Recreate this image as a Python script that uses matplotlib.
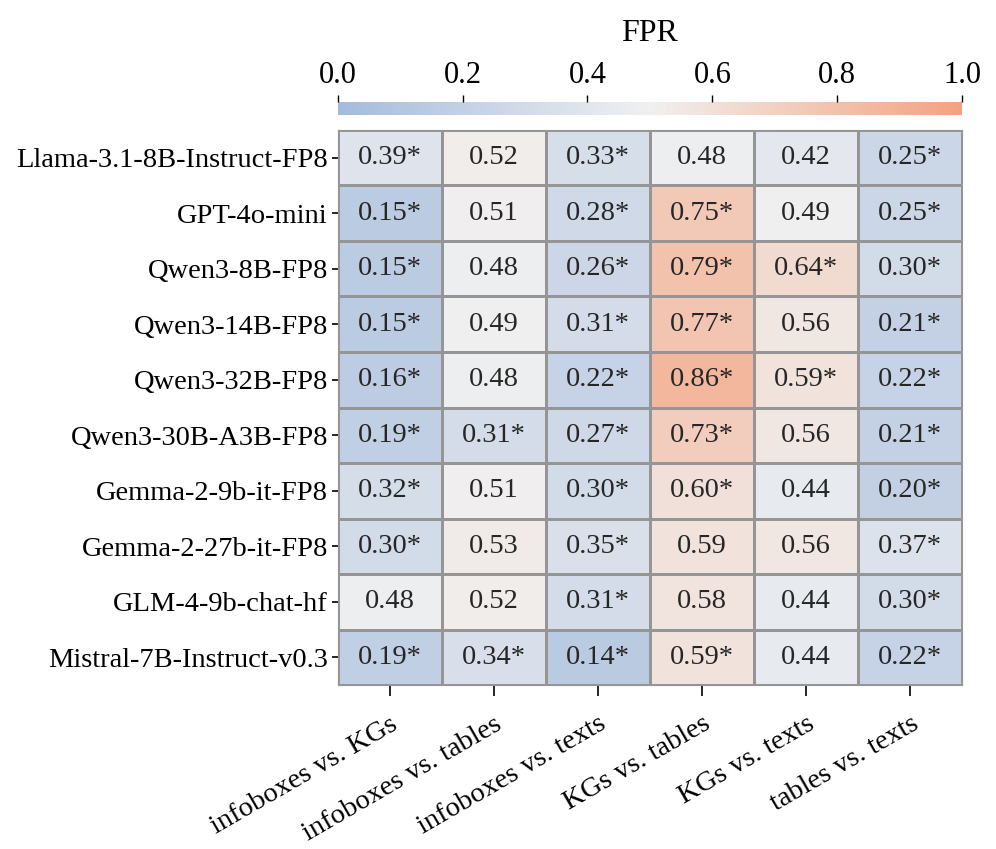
import numpy as np
import matplotlib.pyplot as plt
from matplotlib.colors import LinearSegmentedColormap

plt.rcParams['font.family'] = ['Liberation Serif', 'DejaVu Serif']

models = ["Llama-3.1-8B-Instruct-FP8", "GPT-4o-mini", "Qwen3-8B-FP8", "Qwen3-14B-FP8",
          "Qwen3-32B-FP8", "Qwen3-30B-A3B-FP8", "Gemma-2-9b-it-FP8", "Gemma-2-27b-it-FP8",
          "GLM-4-9b-chat-hf", "Mistral-7B-Instruct-v0.3"]
pairs = ["infoboxes vs. KGs", "infoboxes vs. tables", "infoboxes vs. texts",
         "KGs vs. tables", "KGs vs. texts", "tables vs. texts"]

fpr = np.array([
    [0.39, 0.52, 0.33, 0.48, 0.42, 0.25],
    [0.15, 0.51, 0.28, 0.75, 0.49, 0.25],
    [0.15, 0.48, 0.26, 0.79, 0.64, 0.30],
    [0.15, 0.49, 0.31, 0.77, 0.56, 0.21],
    [0.16, 0.48, 0.22, 0.86, 0.59, 0.22],
    [0.19, 0.31, 0.27, 0.73, 0.56, 0.21],
    [0.32, 0.51, 0.30, 0.60, 0.44, 0.20],
    [0.30, 0.53, 0.35, 0.59, 0.56, 0.37],
    [0.48, 0.52, 0.31, 0.58, 0.44, 0.30],
    [0.19, 0.34, 0.14, 0.59, 0.44, 0.22],
])
# significance markers
sig = np.array([
    [1, 0, 1, 0, 0, 1],
    [1, 0, 1, 1, 0, 1],
    [1, 0, 1, 1, 1, 1],
    [1, 0, 1, 1, 0, 1],
    [1, 0, 1, 1, 1, 1],
    [1, 1, 1, 1, 0, 1],
    [1, 0, 1, 1, 0, 1],
    [1, 0, 1, 0, 0, 1],
    [0, 0, 1, 0, 0, 1],
    [1, 1, 1, 1, 0, 1],
], dtype=bool)

cmap = LinearSegmentedColormap.from_list("fpr", ["#a5bbdc", "#f0f0f0", "#f4a27e"])

fig = plt.figure(figsize=(9.96, 8.49), dpi=100)
ax = fig.add_axes([0.339, 0.193, 0.627, 0.654])
cax = fig.add_axes([0.339, 0.8645, 0.627, 0.0153])

mesh = ax.pcolormesh(fpr, cmap=cmap, vmin=0, vmax=1, edgecolors="#959595", linewidth=1)
ax.set_xlim(0, len(pairs))
ax.set_ylim(len(models), 0)

for i in range(len(models)):
    for j in range(len(pairs)):
        txt = f"{fpr[i, j]:.2f}" + ("*" if sig[i, j] else "")
        ax.text(j + 0.5, i + 0.5, txt, ha="center", va="center", fontsize=20.5, color="#262626")

ax.set_xticks(np.arange(len(pairs)) + 0.5)
ax.set_xticklabels(pairs, rotation=30, ha="right", rotation_mode="anchor", fontsize=20.5)
ax.set_yticks(np.arange(len(models)) + 0.5)
ax.set_yticklabels(models, fontsize=20.5)
ax.tick_params(axis="x", length=8, width=1.2, pad=11)
ax.tick_params(axis="y", length=4, width=1.2, pad=3)
for s in ax.spines.values():
    s.set_color("#959595")

cb = fig.colorbar(mesh, cax=cax, orientation="horizontal")
cb.outline.set_visible(False)
cax.xaxis.set_ticks_position("top")
cax.xaxis.set_label_position("top")
cb.set_ticks([0.0, 0.2, 0.4, 0.6, 0.8, 1.0])
cax.tick_params(labelsize=22, length=5, width=1.0, pad=4)
cb.set_label("FPR", fontsize=23, labelpad=14)

fig.savefig("out.png", dpi=100)
